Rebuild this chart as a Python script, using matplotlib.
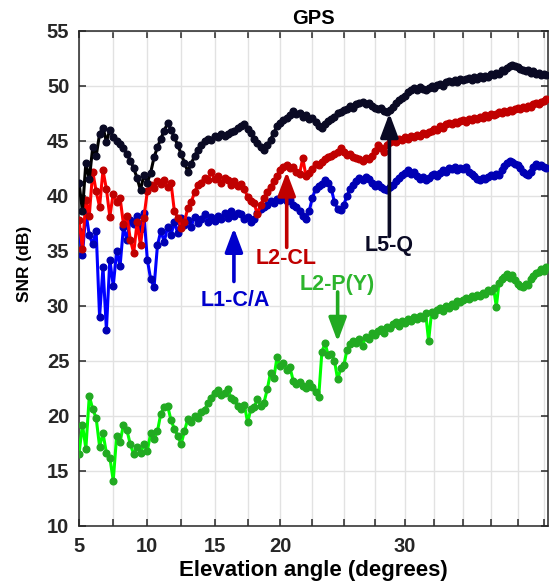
import numpy as np
import matplotlib
matplotlib.use("Agg")
import matplotlib.pyplot as plt
from matplotlib.ticker import FixedLocator, FixedFormatter

plt.rcParams['font.family'] = ['Liberation Sans', 'DejaVu Sans']
plt.rcParams['font.weight'] = 'bold'

# elevation samples (degrees), 4 per degree from 5 to 42.75
elev = np.arange(5.0, 43.0, 0.25)

# SNR, one row per degree (5.00, 5.25, 5.50, 5.75 ...)
snr_l5q = [
    41.2, 38.6, 43.0, 41.5,  44.4, 43.6, 45.6, 46.2,  44.9, 46.0, 45.3, 45.0,
    44.7, 44.3, 43.8, 43.2,  42.5, 41.6, 40.5, 41.9,  41.2, 42.1, 43.5, 44.4,
    45.2, 45.9, 46.6, 46.0,  45.3, 44.6, 43.8, 43.0,  42.2, 42.9, 43.6, 44.2,
    44.6, 45.0, 45.2, 45.1,  45.4, 45.3, 45.6, 45.4,  45.6, 45.8, 45.9, 46.2,
    46.3, 46.5, 46.1, 45.7,  45.2, 44.8, 44.4, 44.2,  44.6, 45.1, 45.7, 46.3,
    46.6, 46.9, 47.1, 47.3,  47.7, 47.4, 47.5, 47.2,  47.3, 47.0, 47.1, 46.7,
    46.3, 46.2, 46.5, 46.8,  47.0, 47.2, 47.5, 47.6,  47.8, 47.9, 48.2, 48.0,
    48.3, 48.4, 48.5, 48.3,  48.4, 48.2, 48.0, 47.9,  48.0, 47.7, 47.6, 47.8,
    48.1, 48.4, 48.7, 48.9,  49.1, 49.4, 49.6, 49.8,  49.6, 49.9, 49.7, 49.6,
    49.8, 50.0, 49.8, 50.1,  50.2, 50.0, 50.3, 50.4,  50.3, 50.5, 50.3, 50.6,
    50.5, 50.6, 50.7, 50.5,  50.8, 50.6, 50.9, 50.7,  50.9, 50.8, 51.1, 51.0,
    51.2, 51.1, 51.4, 51.3,  51.6, 51.8, 51.9, 51.8,  51.7, 51.5, 51.4, 51.3,
    51.4, 51.2, 51.3, 51.1,  51.2, 51.0, 51.1, 51.0,
]
snr_l2cl = [
    37.8, 35.2, 39.6, 38.2,  42.2, 40.4, 39.0, 42.3,  40.6, 38.1, 40.2, 39.4,
    39.8, 37.4, 38.2, 36.0,  34.8, 37.6, 35.5, 38.0,  40.4, 41.0, 40.7, 41.3,
    41.1, 41.4, 40.8, 41.2,  38.6, 38.0, 37.1, 37.6,  38.9, 39.4, 40.3, 41.0,
    41.2, 41.6, 41.4, 42.2,  41.5, 41.8, 41.2, 41.6,  41.4, 41.0, 41.3, 40.9,
    41.1, 40.6, 39.9, 39.5,  39.3, 38.3, 39.2, 39.8,  40.3, 40.8, 41.3, 41.8,
    42.3, 42.6, 42.8, 42.5,  42.6, 42.2, 42.0, 43.4,  41.8, 42.1, 42.4, 42.9,
    42.8, 43.1, 43.3, 43.5,  43.6, 43.8, 44.0, 44.3,  44.0, 43.7, 43.8, 43.5,
    43.4, 43.3, 43.2, 43.4,  43.3, 43.6, 44.1, 44.6,  44.3, 44.0, 44.6, 44.9,
    45.0, 44.9, 45.2, 45.1,  45.3, 45.2, 45.4, 45.3,  45.5, 45.4, 45.7, 45.6,
    45.8, 45.9, 46.1, 46.0,  46.3, 46.2, 46.5, 46.6,  46.5, 46.7, 46.6, 46.8,
    46.9, 46.7, 47.0, 46.9,  47.1, 47.0, 47.2, 47.1,  47.3, 47.2, 47.4, 47.3,
    47.4, 47.6, 47.5, 47.7,  47.6, 47.8, 47.7, 47.9,  48.0, 47.9, 48.1, 48.0,
    48.2, 48.1, 48.3, 48.4,  48.3, 48.5, 48.6, 48.8,
]
snr_l1ca = [
    36.8, 34.6, 38.5, 36.4,  35.6, 36.8, 29.0, 33.5,  27.8, 34.2, 31.8, 35.0,
    33.6, 37.2, 36.0, 37.8,  37.4, 38.2, 37.0, 38.4,  34.2, 32.4, 31.7, 35.5,
    36.8, 35.8, 37.2, 36.4,  37.6, 36.6, 38.0, 37.3,  37.8, 37.2, 38.1, 37.5,
    37.9, 38.3, 37.6, 38.1,  37.7, 38.2, 37.9, 38.4,  38.0, 38.6, 38.2, 38.4,
    38.3, 37.9, 38.1, 37.6,  37.9, 38.4, 38.8, 39.0,  39.2, 39.5, 39.3, 39.7,
    39.6, 39.9, 39.5, 39.6,  39.2, 39.0, 38.6, 38.2,  37.9, 38.6, 39.8, 40.6,
    40.9, 41.1, 41.4, 41.2,  40.6, 39.4, 38.8, 38.7,  39.2, 40.0, 40.6, 41.0,
    41.3, 41.6, 41.4, 41.7,  41.5, 41.2, 40.9, 41.1,  40.8, 40.6, 40.5, 40.8,
    41.0, 41.3, 41.6, 41.9,  42.1, 42.3, 42.0, 42.2,  41.8, 41.5, 41.7, 41.4,
    41.6, 41.9, 42.0, 41.8,  42.1, 42.3, 42.2, 42.5,  42.4, 42.6, 42.3, 42.5,
    42.4, 42.6, 42.2, 42.0,  41.8, 41.5, 41.4, 41.6,  41.5, 41.7, 41.9, 41.8,
    42.0, 41.9, 42.3, 42.7,  43.0, 43.2, 43.1, 42.9,  42.8, 42.5, 42.2, 42.0,
    41.9, 42.2, 42.6, 42.9,  42.7, 42.8, 42.6, 42.5,
]
snr_l2py = [
    16.5, 19.2, 17.0, 21.8,  20.6, 19.8, 17.2, 18.4,  16.6, 16.2, 14.1, 18.2,
    17.6, 19.2, 18.7, 17.4,  16.5, 17.2, 16.6, 17.4,  16.8, 18.4, 17.9, 18.6,
    20.2, 20.8, 20.9, 19.6,  18.8, 18.2, 17.4, 18.6,  19.7, 19.4, 20.0, 19.8,
    20.3, 20.5, 21.2, 21.6,  22.1, 22.3, 21.9, 22.1,  22.4, 21.6, 21.4, 20.9,
    20.6, 21.0, 19.4, 20.6,  20.8, 21.5, 20.9, 21.2,  22.4, 23.9, 23.4, 25.3,
    24.5, 24.8, 24.2, 24.4,  23.2, 22.9, 23.1, 22.7,  22.5, 23.0, 22.6, 22.2,
    21.7, 25.8, 26.6, 25.5,  25.6, 25.0, 23.3, 24.3,  24.6, 26.0, 26.5, 26.8,
    26.6, 27.0, 26.3, 27.2,  27.0, 27.5, 27.3, 27.7,  27.9, 27.5, 28.1, 28.0,
    28.3, 28.5, 28.2, 28.6,  28.4, 28.8, 28.6, 29.0,  28.8, 29.1, 28.9, 29.3,
    26.8, 29.4, 29.2, 29.6,  29.8, 29.5, 30.0, 29.8,  30.2, 30.0, 30.4, 30.3,
    30.5, 30.7, 30.6, 30.9,  30.8, 31.0, 30.9, 31.2,  31.1, 31.4, 31.3, 31.6,
    29.9, 32.1, 32.4, 32.6,  32.9, 32.5, 32.8, 32.3,  32.0, 31.8, 31.7, 32.0,
    31.9, 32.4, 32.7, 33.0,  33.1, 33.3, 33.2, 33.5,
]

xticks = [5 + 2.5 * i for i in range(16)]
xticklabels = ['5', '', '10', '', '15', '', '20', '', '', '', '30', '', '', '', '', '']
yticks = list(range(10, 56, 5))

fig = plt.figure(figsize=(5.49, 5.85), dpi=100)
ax = fig.add_axes([79 / 549, 1 - 525.7 / 585, 469 / 549, 495 / 585])

fwd = lambda d: np.sin(np.deg2rad(d))
inv = lambda s: np.rad2deg(np.arcsin(np.clip(s, -1, 1)))
ax.set_xscale('function', functions=(fwd, inv))

series = [
    (snr_l1ca, '#0000ff', '#0000b4'),
    (snr_l2cl, '#ff0000', '#c00000'),
    (snr_l2py, '#00ff00', '#22aa22'),
    (snr_l5q, '#000000', '#0a0a24'),
]
for vals, lc, mc in series:
    ax.plot(elev, vals, '-', color=lc, lw=2.2, marker='o', ms=4.8,
            mfc=mc, mec=mc, zorder=3)

# labels with arrows
notes = [
    ('L1-C/A', (16.58, 30.5), (16.46, 32.2), (16.46, 37.06), '#0000cc', '#0000cc'),
    ('L2-CL', (20.48, 34.25), (20.5, 35.3), (20.5, 42.18), '#c00000', '#c00000'),
    ('L5-Q', (28.71, 35.43), (28.7, 36.3), (28.7, 47.49), '#0a0a24', '#0a0a24'),
    ('L2-P(Y)', (24.49, 31.97), (24.5, 31.25), (24.5, 26.73), '#2db52d', '#22aa22'),
]
for txt, tpos, tail, tip, tc, ac in notes:
    ax.text(tpos[0], tpos[1], txt, color=tc, fontsize=15.5, fontweight='bold',
            ha='center', va='center', zorder=5)
    ax.annotate('', xy=tip, xytext=tail,
                arrowprops=dict(arrowstyle='-|>,head_length=0.8,head_width=0.3',
                                color=ac, lw=2.6, mutation_scale=18,
                                shrinkA=0, shrinkB=0),
                zorder=5)

ax.set_xlim(5, 42.93)
ax.set_ylim(10, 55)
ax.xaxis.set_major_locator(FixedLocator(xticks))
ax.xaxis.set_major_formatter(FixedFormatter(xticklabels))
ax.xaxis.set_minor_locator(FixedLocator([]))
ax.set_yticks(yticks)

ax.grid(True, color='#e2e2e2', lw=1.0)
ax.set_axisbelow(True)
for s in ax.spines.values():
    s.set_color('#262626')
    s.set_linewidth(1.1)
ax.tick_params(direction='in', length=5, width=1.1, top=True, right=True,
               labelsize=14.5, colors='#262626')
ax.tick_params(axis='y', pad=7)
ax.tick_params(axis='x', pad=8)

ax.set_title('GPS', fontsize=14.5, fontweight='bold', pad=5)
ax.set_xlabel('Elevation angle (degrees)', fontsize=16, fontweight='bold', labelpad=3)
ax.set_ylabel('SNR (dB)', fontsize=12.5, fontweight='bold')
ax.yaxis.set_label_coords(-0.100, 0.529)

fig.savefig('out.png', dpi=100)
